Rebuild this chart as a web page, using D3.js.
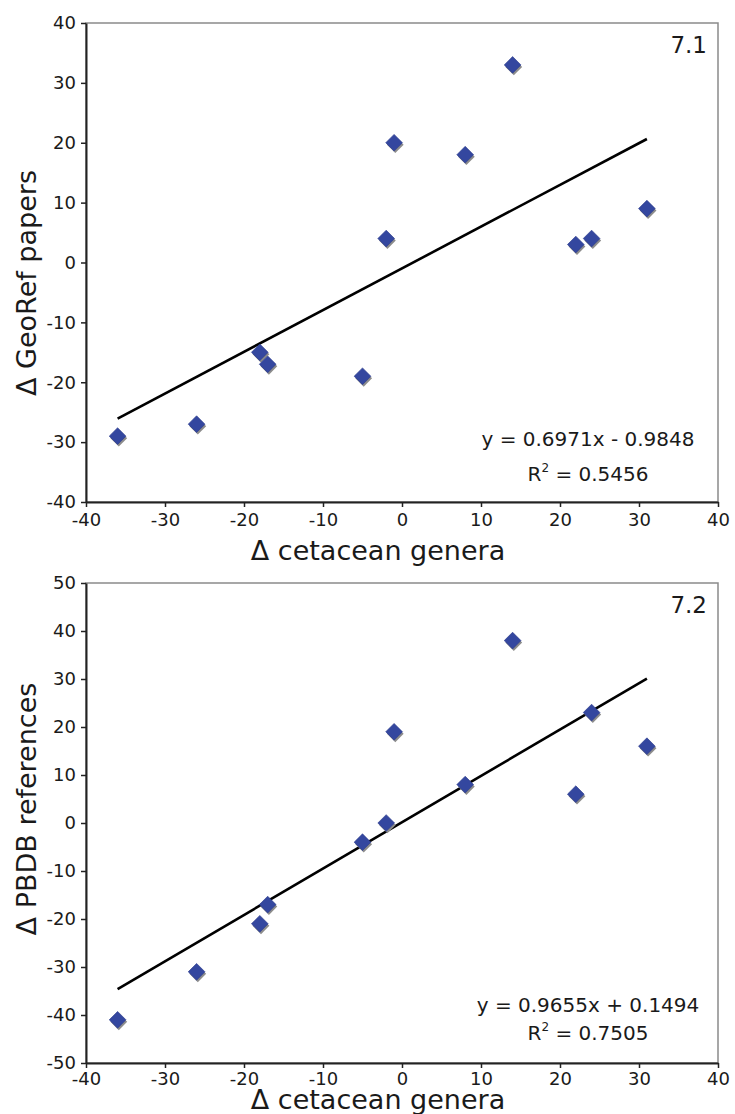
<!DOCTYPE html>
<html>
<head>
<meta charset="utf-8">
<script src="https://cdn.jsdelivr.net/npm/d3@7"></script>
<style>
  body { margin: 0; background: #fff; }
  text { font-family: "DejaVu Sans", Verdana, sans-serif; fill: #1a1a1a; }
</style>
</head>
<body>
<div id="chart"></div>
<script>
// change in cetacean genera (shared by both panels)
const genera = [-36, -26, -18, -17, -5, -2, -1, 8, 14, 22, 24, 31];
// panel 7.1: change in GeoRef papers
const georef = [-29, -27, -15, -17, -19, 4, 20, 18, 33, 3, 4, 9];
// panel 7.2: change in PBDB references
const pbdb = [-41, -31, -21, -17, -4, 0, 19, 8, 38, 6, 23, 16];

const xTicks = [-40, -30, -20, -10, 0, 10, 20, 30, 40];
const yTicks1 = [-40, -30, -20, -10, 0, 10, 20, 30, 40];
const yTicks2 = [-50, -40, -30, -20, -10, 0, 10, 20, 30, 40, 50];

const fit1 = { slope: 0.6971, intercept: -0.9848, r2: '0.5456', eq: 'y = 0.6971x - 0.9848' };
const fit2 = { slope: 0.9655, intercept: 0.1494, r2: '0.7505', eq: 'y = 0.9655x + 0.1494' };

const width = 735,
  height = 1114;

const svg = d3.select('#chart').append('svg').attr('width', width).attr('height', height);

const x = d3.scaleLinear().domain([-40, 40]).range([86, 718]);

const panels = [
  {
    id: '7.1', ys: georef, fit: fit1, ticks: yTicks1, domain: [-40, 40],
    top: 23, bottom: 502, ytitle: '\u0394 GeoRef papers', ytitleY: 283,
    eqY: 446, r2Y: 481, xtitleY: 560, xpad: 6
  },
  {
    id: '7.2', ys: pbdb, fit: fit2, ticks: yTicks2, domain: [-50, 50],
    top: 583, bottom: 1063, ytitle: '\u0394 PBDB references', ytitleY: 809,
    eqY: 1012, r2Y: 1040, xtitleY: 1109, xpad: 4
  }
];

panels.forEach(drawPanel);

function drawPanel(p) {
  const y = d3.scaleLinear().domain(p.domain).range([p.bottom, p.top]);
  const g = svg.append('g');
  const pts = genera.map((gx, i) => ({ x: gx, y: p.ys[i] }));

  // frame (top/right in grey)
  g.append('rect')
    .attr('x', x.range()[0])
    .attr('y', p.top)
    .attr('width', x.range()[1] - x.range()[0])
    .attr('height', p.bottom - p.top)
    .attr('fill', 'none')
    .attr('stroke', '#8a8a8a')
    .attr('stroke-width', 1.5);

  const fmt = d => String(d);

  const yAxis = g.append('g')
    .attr('transform', `translate(${x.range()[0]},0)`)
    .call(d3.axisLeft(y).tickValues(p.ticks).tickSize(5).tickSizeOuter(0).tickPadding(5).tickFormat(fmt));

  const xAxis = g.append('g')
    .attr('transform', `translate(0,${p.bottom})`)
    .call(d3.axisBottom(x).tickValues(xTicks).tickSize(5).tickSizeOuter(0).tickPadding(p.xpad).tickFormat(fmt));

  [yAxis, xAxis].forEach(a => {
    a.select('.domain').attr('stroke', '#222').attr('stroke-width', 2);
    a.selectAll('.tick line').attr('stroke', '#222').attr('stroke-width', 1.5);
    a.selectAll('.tick text')
      .attr('font-family', '"DejaVu Sans", Verdana, sans-serif')
      .attr('font-size', 18)
      .attr('fill', '#1a1a1a');
  });

  // trendline over the data range
  const [x0, x1] = d3.extent(genera);
  g.append('line')
    .attr('x1', x(x0))
    .attr('y1', y(p.fit.slope * x0 + p.fit.intercept))
    .attr('x2', x(x1))
    .attr('y2', y(p.fit.slope * x1 + p.fit.intercept))
    .attr('stroke', '#000')
    .attr('stroke-width', 2.6);

  // diamond markers with a small grey drop shadow
  const diamond = d3.symbol(d3.symbolSquare, 140);
  g.selectAll('.shadow')
    .data(pts)
    .join('path')
    .attr('class', 'shadow')
    .attr('d', diamond)
    .attr('transform', d => `translate(${x(d.x) + 1.2},${y(d.y) + 2}) rotate(45)`)
    .attr('fill', '#8c8c8c');

  g.selectAll('.pt')
    .data(pts)
    .join('path')
    .attr('class', 'pt')
    .attr('d', diamond)
    .attr('transform', d => `translate(${x(d.x)},${y(d.y)}) rotate(45)`)
    .attr('fill', '#34479f')
    .attr('stroke', '#2a3b8c')
    .attr('stroke-width', 0.6);

  // panel label
  g.append('text')
    .attr('x', 707)
    .attr('y', p.top + 30)
    .attr('text-anchor', 'end')
    .attr('font-size', 23)
    .text(p.id);

  // regression text
  g.append('text')
    .attr('x', 588)
    .attr('y', p.eqY)
    .attr('text-anchor', 'middle')
    .attr('font-size', 20)
    .text(p.fit.eq);

  const r2 = g.append('text')
    .attr('x', 588)
    .attr('y', p.r2Y)
    .attr('text-anchor', 'middle')
    .attr('font-size', 20);
  r2.append('tspan').text('R');
  r2.append('tspan').attr('font-size', 12).attr('dy', -9).text('2');
  r2.append('tspan').attr('dy', 9).text(' = ' + p.fit.r2);

  // axis titles
  g.append('text')
    .attr('transform', `translate(36,${p.ytitleY}) rotate(-90)`)
    .attr('text-anchor', 'middle')
    .attr('font-size', 27)
    .text(p.ytitle);

  g.append('text')
    .attr('x', 378)
    .attr('y', p.xtitleY)
    .attr('text-anchor', 'middle')
    .attr('font-size', 27)
    .text('\u0394 cetacean genera');
}
</script>
</body>
</html>
